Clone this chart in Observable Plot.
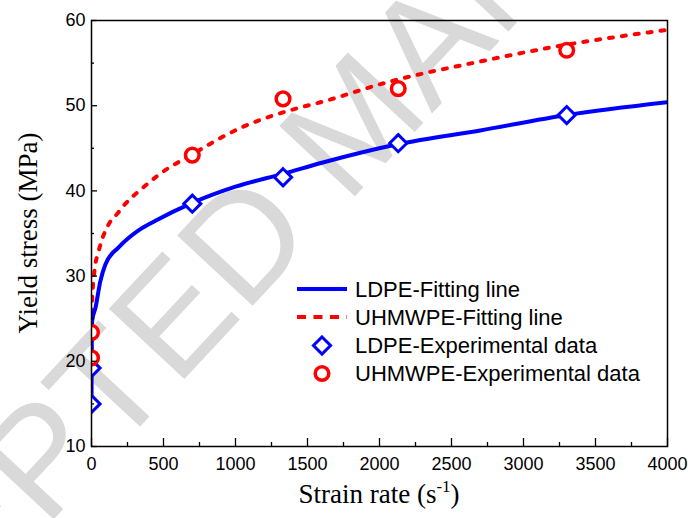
<!DOCTYPE html>
<html><head><meta charset="utf-8">
<script src="https://cdn.jsdelivr.net/npm/d3@7"></script>
<script src="https://cdn.jsdelivr.net/npm/@observablehq/plot@0.6"></script>
<style>body{margin:0;background:#fff}</style>
</head><body><div id="chart"></div>
<script>
// Fitted curves
const ldpeFitX = [0.2, 1, 5, 28, 60, 97, 190, 329, 444, 700, 1000, 1330, 1600, 2134, 2700, 3303, 4000];
const ldpeFitY = [15, 19.5, 24.8, 26.3, 29.3, 31.4, 33.4, 35.4, 36.5, 38.6, 40.5, 42.0, 43.3, 45.5, 47.1, 48.9, 50.4];
const uhmwFitX = [0.5, 2, 5, 20, 51, 120, 178, 236, 352, 468, 700, 1023, 1440, 1590, 2053, 2701, 3210, 4000];
const uhmwFitY = [21, 25, 27.3, 30.5, 33.0, 36.1, 37.3, 38.5, 40.3, 41.9, 44.3, 47.3, 49.75, 50.4, 52.75, 55.2, 56.9, 58.9];
// Experimental data
const ldpeExpX = [0, 0, 700, 1330, 2130, 3300];
const ldpeExpY = [15.0, 19.2, 38.5, 41.6, 45.6, 48.9];
const uhmwExpX = [0, 0, 700, 1330, 2130, 3300];
const uhmwExpY = [20.4, 23.4, 44.2, 50.8, 52.0, 56.5];
// Ticks
const xMajorTicks = [0, 500, 1000, 1500, 2000, 2500, 3000, 3500, 4000];
const xMinorTicks = [250, 750, 1250, 1750, 2250, 2750, 3250, 3750];
const yMajorTicks = [10, 20, 30, 40, 50, 60];
const yMinorTicks = [15, 25, 35, 45, 55];
const legendLabels = ["LDPE-Fitting line", "UHMWPE-Fitting line", "LDPE-Experimental data", "UHMWPE-Experimental data"];
const watermark = "ACCEPTED MANUSCRIPT";

const W = 688, H = 518, mL = 91, mR = 21, mT = 20, mB = 72;
const plotW = W - mL - mR, plotH = H - mT - mB;
const BLUE = "#0000ff", RED = "#ff0000";

const zip = (xs, ys) => xs.map((x, i) => ({x, y: ys[i]}));
const ldpeFit = zip(ldpeFitX, ldpeFitY);
const uhmwFit = zip(uhmwFitX, uhmwFitY);
const ldpeExp = zip(ldpeExpX, ldpeExpY);
const uhmwExp = zip(uhmwExpX, uhmwExpY);

const chart = Plot.plot({
  width: W, height: H,
  marginLeft: mL, marginRight: mR, marginTop: mT, marginBottom: mB,
  style: {fontFamily: "'Liberation Sans', Arial, sans-serif", fontSize: "18px", color: "#000", background: "#fff"},
  x: {domain: [0, 4000]},
  y: {domain: [10, 60]},
  marks: [
    Plot.line(uhmwFit, {x: "x", y: "y", stroke: RED, strokeWidth: 4, strokeDasharray: "4,9", curve: "monotone-x", clip: true}),
    Plot.line(ldpeFit, {x: "x", y: "y", stroke: BLUE, strokeWidth: 4, curve: "monotone-x", clip: true}),
    Plot.dot(ldpeExp, {x: "x", y: "y", symbol: "diamond2", r: 7.7, stroke: BLUE, strokeWidth: 3, fill: "#fff", clip: true}),
    Plot.dot(uhmwExp, {x: "x", y: "y", symbol: "circle", r: 6.8, stroke: RED, strokeWidth: 3.5, fill: "#fff", clip: true}),
    Plot.ruleX(xMajorTicks, {x: d => d, insetTop: plotH - 8, stroke: "#000", strokeWidth: 1.3}),
    Plot.ruleX(xMinorTicks, {x: d => d, insetTop: plotH - 4, stroke: "#000", strokeWidth: 1.3}),
    Plot.ruleY(yMajorTicks, {y: d => d, insetRight: plotW - 6, stroke: "#000", strokeWidth: 1.3}),
    Plot.ruleY(yMinorTicks, {y: d => d, insetRight: plotW - 3, stroke: "#000", strokeWidth: 1.3}),
    Plot.axisX({ticks: xMajorTicks, tickSize: 0, tickPadding: 11, label: null, tickFormat: d => String(d), fontSize: 18}),
    Plot.axisY({ticks: yMajorTicks, tickSize: 0, tickPadding: 6, label: null, tickFormat: d => String(d), fontSize: 18}),
    Plot.frame({stroke: "#000", strokeWidth: 1.5})
  ]
});

const svg = d3.select(chart);
// watermark behind everything
svg.insert("text", ":first-child")
  .attr("transform", "translate(-239,833) rotate(-47)")
  .attr("text-anchor", "start")
  .attr("font-family", "'Liberation Sans', Arial, sans-serif")
  .attr("font-size", 150)
  .attr("fill", "#d9d9d9")
  .text(watermark);
svg.insert("rect", ":first-child").attr("width", W).attr("height", H).attr("fill", "#fff");

// axis titles
const xt = svg.append("text")
  .attr("x", mL + plotW / 2).attr("y", 503)
  .attr("text-anchor", "middle")
  .attr("font-family", "'Liberation Serif', 'Times New Roman', serif")
  .attr("font-size", 27).attr("fill", "#000");
xt.append("tspan").text("Strain rate (s");
xt.append("tspan").attr("font-size", 17).attr("dy", -11).text("-1");
xt.append("tspan").attr("dy", 11).text(")");

svg.append("text")
  .attr("transform", `translate(37,${mT + plotH / 2}) rotate(-90)`)
  .attr("text-anchor", "middle")
  .attr("font-family", "'Liberation Serif', 'Times New Roman', serif")
  .attr("font-size", 27).attr("fill", "#000")
  .text("Yield stress (MPa)");

// legend
const lg = svg.append("g").attr("font-family", "'Liberation Sans', Arial, sans-serif").attr("font-size", 22).attr("text-anchor", "start");
const rows = [289, 317, 345.5, 373.5];
lg.append("line").attr("x1", 297).attr("x2", 347).attr("y1", rows[0]).attr("y2", rows[0]).attr("stroke", BLUE).attr("stroke-width", 4);
lg.append("line").attr("x1", 297).attr("x2", 347).attr("y1", rows[1]).attr("y2", rows[1]).attr("stroke", RED).attr("stroke-width", 4).attr("stroke-dasharray", "9,7.5");
lg.append("path").attr("d", d3.symbol(d3.symbolDiamond2, Math.PI * 7.7 * 7.7)()).attr("transform", `translate(322,${rows[2]})`).attr("fill", "#fff").attr("stroke", BLUE).attr("stroke-width", 3);
lg.append("circle").attr("cx", 322).attr("cy", rows[3]).attr("r", 6.8).attr("fill", "#fff").attr("stroke", RED).attr("stroke-width", 3.5);
legendLabels.forEach((t, i) => {
  lg.append("text").attr("x", 355).attr("y", rows[i]).attr("dy", "0.35em").attr("text-anchor", "start").attr("fill", "#000").text(t);
});

document.getElementById("chart").appendChild(chart);
</script>
</body></html>
